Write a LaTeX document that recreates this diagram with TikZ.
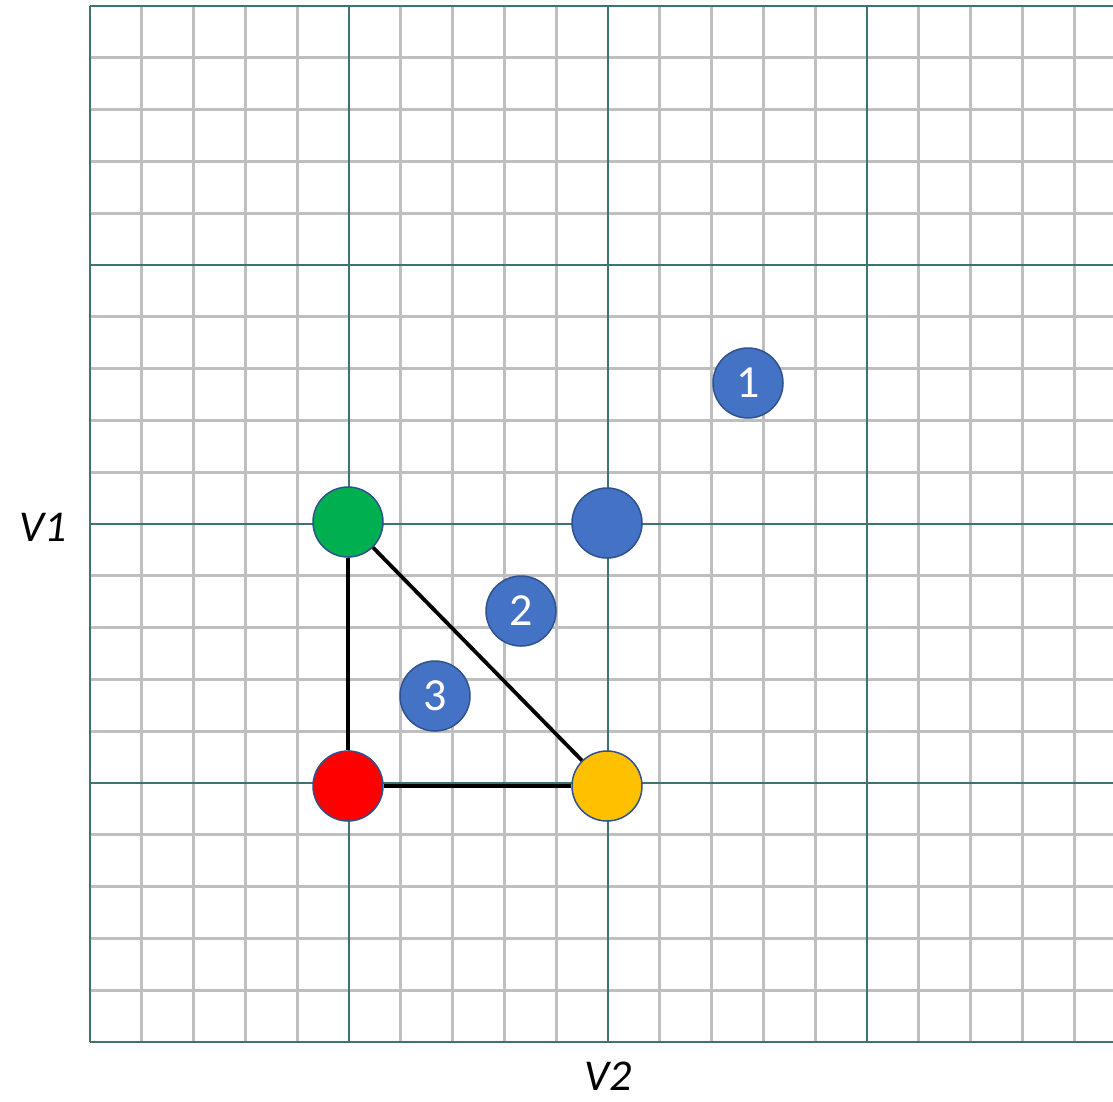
\documentclass[tikz,border=0pt]{standalone}
\usepackage{fontspec}
\setmainfont{Carlito}
\definecolor{minorgrid}{RGB}{191,191,191}
\definecolor{majorgrid}{RGB}{62,115,112}
\definecolor{dotblue}{RGB}{68,114,196}
\definecolor{dotedge}{RGB}{47,82,143}
\definecolor{dotgreen}{RGB}{0,176,80}
\definecolor{dotred}{RGB}{255,0,0}
\definecolor{dotyellow}{RGB}{255,192,0}
\begin{document}
\begin{tikzpicture}[x=1pt,y=-1pt,
  minorline/.style={draw=minorgrid,line width=2.8pt},
  majorline/.style={draw=majorgrid,line width=2.4pt},
  dot/.style={circle,minimum size=70pt,inner sep=0pt,draw=dotedge,line width=1.5pt},
  numdot/.style={dot,fill=dotblue,text=white,font=\fontsize{46}{46}\selectfont},
  edgeline/.style={draw=black,line width=3.8pt},
  axislabel/.style={font=\itshape\fontsize{44}{44}\selectfont,text=black,inner sep=0pt}]
\useasboundingbox (0,0) rectangle (1113,1101);
\begin{scope}
\clip (0,0) rectangle (1113,1101);
% minor grid
\foreach \k in {0,...,20} {
  \draw[minorline] ({90+51.8*\k},6) -- ({90+51.8*\k},1042);
  \draw[minorline] (90,{6+51.8*\k}) -- (1130,{6+51.8*\k});
}
% major grid
\foreach \k in {0,...,4} {
  \draw[majorline] ({90+259*\k},6) -- ({90+259*\k},1042);
  \draw[majorline] (90,{6+259*\k}) -- (1130,{6+259*\k});
}
\end{scope}
% nodes
\node[dot,fill=dotgreen] (g) at (348,522) {};
\node[dot,fill=dotred] (r) at (348,786) {};
\node[dot,fill=dotyellow] (y) at (607,786) {};
\node[dot,fill=dotblue] (b) at (607,523) {};
\node[numdot] (n1) at (748,383) {1};
\node[numdot] (n2) at (521,611) {2};
\node[numdot] (n3) at (435,696) {3};
% connectors
\draw[edgeline] (g) -- (r);
\draw[edgeline] (r) -- (y);
\draw[edgeline] (g) -- (y);
% labels
\node[axislabel] (v1) at (43,527) {V1};
\node[axislabel] (v2) at (608,1076) {V2};
\end{tikzpicture}
\end{document}
